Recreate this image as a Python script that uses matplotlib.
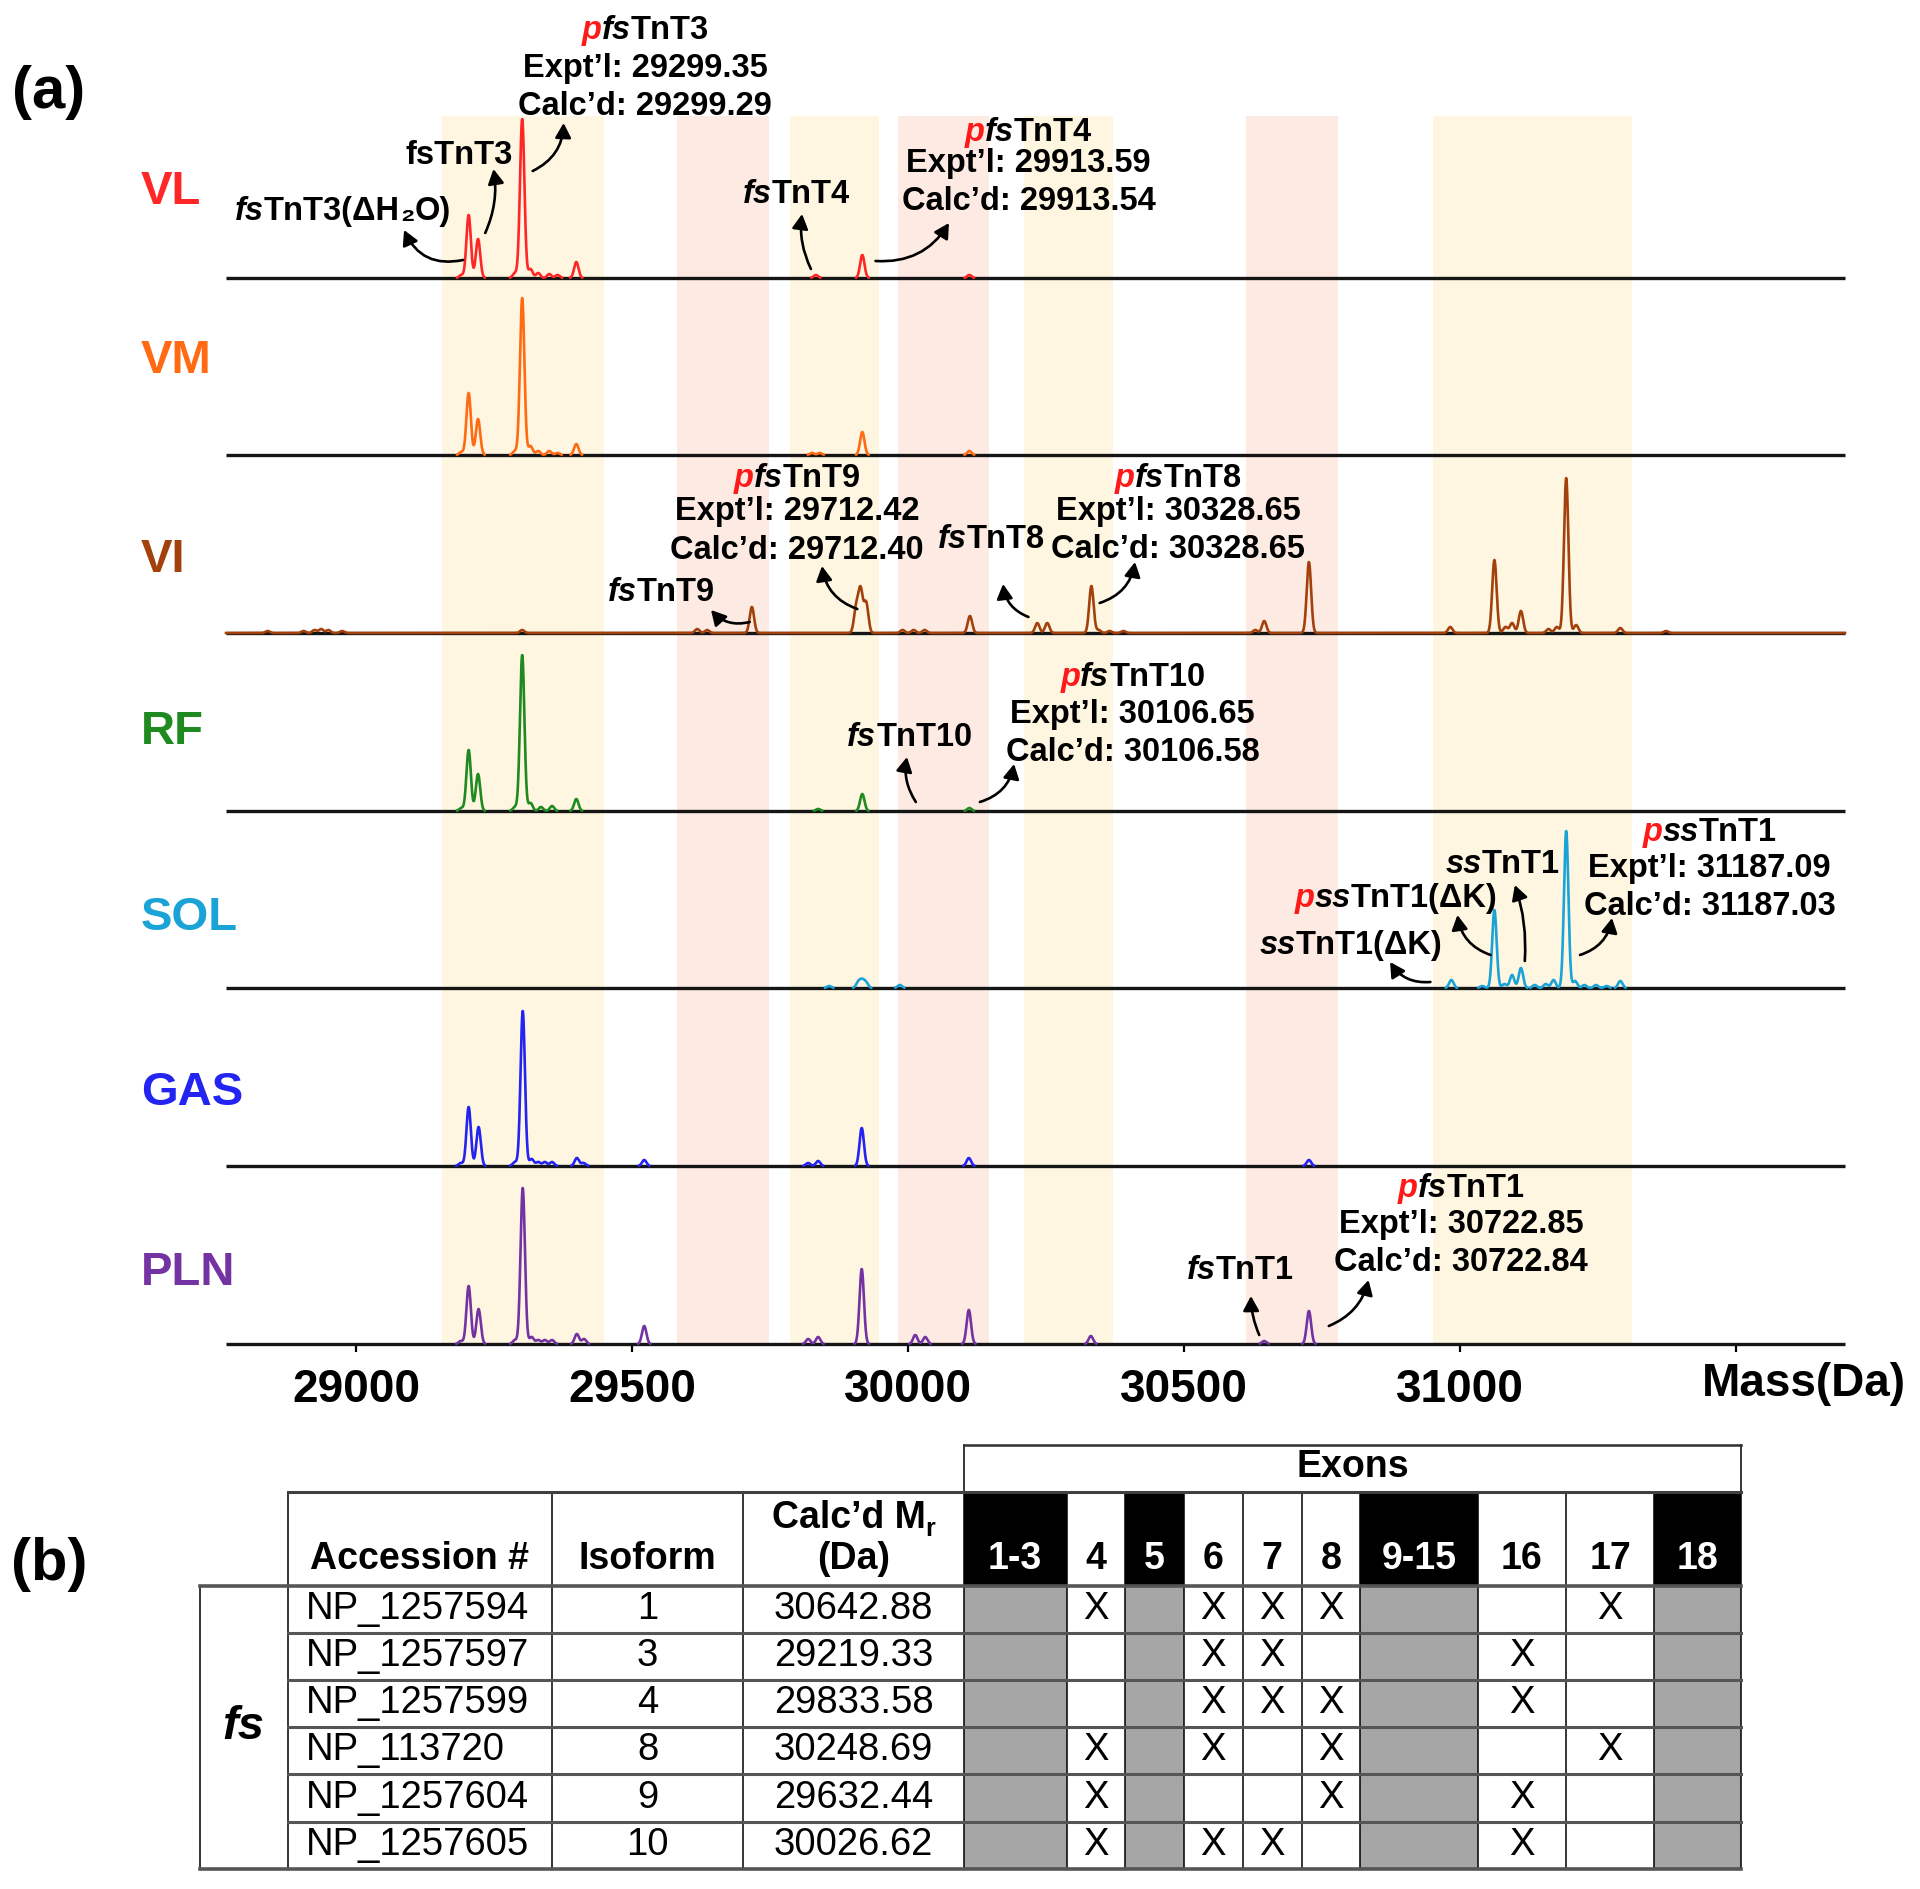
import numpy as np
import matplotlib
matplotlib.use('Agg')
import matplotlib.pyplot as plt
from matplotlib.patches import FancyArrowPatch, Rectangle
from matplotlib.transforms import offset_copy

FONT = ['Liberation Sans', 'DejaVu Sans']
plt.rcParams['font.family'] = FONT

# ---------------- data: panel (a) ----------------
panel_names = ['VL', 'VM', 'VI', 'RF', 'SOL', 'GAS', 'PLN']
panel_colors = ['#FF2626', '#FF6A12', '#A3410C', '#1F8A1F', '#1AA3D6', '#2323F2', '#7433A3']

vl_mass = [29191, 29204, 29221, 29288, 29301, 29316, 29330, 29350, 29365, 29399, 29833, 29917, 30111]
vl_int = [3, 63, 39, 5, 159, 9, 5, 4, 3, 16, 3, 23, 3]
vm_mass = [29191, 29204, 29221, 29288, 29301, 29316, 29330, 29350, 29365, 29399, 29826, 29840, 29917, 30111]
vm_int = [3, 62, 36, 4, 157, 9, 4, 4, 2, 11, 2, 2, 23, 4]
vi_mass = [28840, 28905, 28925, 28937, 28950, 28975, 29301, 29618, 29636, 29717, 29906, 29914, 29924,
           29990, 30010, 30030, 30112, 30234, 30252, 30332, 30345, 30365, 30390, 30629, 30645, 30726,
           30982, 31062, 31082, 31094, 31110, 31160, 31175, 31192, 31210, 31290, 31373]
vi_int = [2, 2, 3, 4, 3, 2, 3, 4, 3, 26, 25, 42, 30,
          3, 3, 3, 17, 10, 10, 47, 3, 2, 2, 3, 12, 71,
          6, 73, 6, 10, 22, 4, 6, 155, 8, 5, 2]
rf_mass = [29191, 29204, 29221, 29288, 29301, 29316, 29335, 29355, 29399, 29837, 29917, 30111]
rf_int = [3, 61, 37, 4, 156, 8, 4, 5, 12, 2, 17, 3]
sol_mass = [29857, 29910, 29917, 29924, 29985, 30984, 31040, 31062, 31080, 31094, 31110, 31135, 31155,
            31169, 31192, 31208, 31225, 31246, 31265, 31290]
sol_int = [2, 6, 7, 5, 3, 8, 2, 78, 4, 13, 20, 3, 4, 8, 157, 7, 3, 3, 2, 7]
gas_mass = [29190, 29204, 29222, 29288, 29302, 29318, 29330, 29342, 29355, 29400, 29412, 29522, 29819,
            29837, 29916, 30110, 30726]
gas_int = [3, 59, 39, 4, 155, 7, 4, 4, 4, 8, 3, 6, 3, 5, 38, 8, 6]
pln_mass = [29190, 29204, 29222, 29288, 29302, 29318, 29330, 29342, 29355, 29400, 29413, 29522, 29819,
            29837, 29916, 30013, 30031, 30110, 30331, 30645, 30726]
pln_int = [3, 58, 35, 4, 156, 7, 4, 4, 4, 10, 5, 18, 5, 7, 75, 9, 7, 34, 8, 3, 33]

panel_peaks = [(vl_mass, vl_int), (vm_mass, vm_int), (vi_mass, vi_int), (rf_mass, rf_int),
               (sol_mass, sol_int), (gas_mass, gas_int), (pln_mass, pln_int)]

yellow_bands = [(29156, 29449), (29786, 29947), (30210, 30371), (30951, 31312)]
pink_bands = [(29582, 29748), (29982, 30147), (30612, 30779)]

x_ticks = [29000, 29500, 30000, 30500, 31000, 31500]
x_ticklabels = ['29000', '29500', '30000', '30500', '31000', '']

# ---------------- data: table (b) ----------------
accessions = ['NP_1257594', 'NP_1257597', 'NP_1257599', 'NP_113720', 'NP_1257604', 'NP_1257605']
isoforms = ['1', '3', '4', '8', '9', '10']
calc_mr = ['30642.88', '29219.33', '29833.58', '30248.69', '29632.44', '30026.62']
exon_labels = ['1-3', '4', '5', '6', '7', '8', '9-15', '16', '17', '18']
exon_constitutive = [1, 0, 1, 0, 0, 0, 1, 0, 0, 1]
exon_presence = [
    [0, 1, 0, 1, 1, 1, 0, 0, 1, 0],
    [0, 0, 0, 1, 1, 0, 0, 1, 0, 0],
    [0, 0, 0, 1, 1, 1, 0, 1, 0, 0],
    [0, 1, 0, 1, 0, 1, 0, 0, 1, 0],
    [0, 1, 0, 0, 0, 1, 0, 1, 0, 0],
    [0, 1, 0, 1, 1, 0, 0, 1, 0, 0],
]

# ---------------- figure ----------------
W, H = 1920, 1889
fig = plt.figure(figsize=(W / 100, H / 100), dpi=100)
renderer = fig.canvas.get_renderer()

# overlay axes in pixel coordinates (for labels & table)
axp = fig.add_axes([0, 0, 1, 1])
axp.set_xlim(0, W)
axp.set_ylim(H, 0)
axp.axis('off')

# spectra axes
PL, PR, PB = 226, 1845, 1344
ax = fig.add_axes([PL / W, (H - PB) / H, (PR - PL) / W, PB / H])
ax.set_facecolor('none')
ax.set_xlim(28764.5, 31697)
ax.set_ylim(0, PB)
for s in ax.spines.values():
    s.set_visible(False)
ax.set_yticks([])
ax.set_xticks(x_ticks)
ax.set_xticklabels(x_ticklabels, fontsize=33, fontweight='bold')
ax.tick_params(axis='x', direction='out', length=6, width=1.6, pad=11)

band_top = (PB - 116) / PB
for a, b in yellow_bands:
    ax.axvspan(a, b, ymin=0, ymax=band_top, color='#FFF6E2', lw=0, zorder=0)
for a, b in pink_bands:
    ax.axvspan(a, b, ymin=0, ymax=band_top, color='#FDEBE3', lw=0, zorder=0)

baselines = [1066, 889, 711, 533, 356, 178, 0]
label_y_px = [192, 361, 560, 732, 918, 1093, 1273]
mgrid = np.linspace(28764.5, 31697, 7000)
SIG = 4.0
for i, (name, col) in enumerate(zip(panel_names, panel_colors)):
    base = baselines[i]
    ax.hlines(base, 28764.5, 31697, color='#151515', lw=2.4, zorder=2, clip_on=False)
    ms, hs = panel_peaks[i]
    y = np.zeros_like(mgrid)
    for m, h in zip(ms, hs):
        y += h * np.exp(-0.5 * ((mgrid - m) / SIG) ** 2)
    if name == 'VI':
        yy = y + base
    else:
        yy = np.where(y > 0.35, y + base, np.nan)
    ax.plot(mgrid, yy, color=col, lw=1.9, zorder=3, clip_on=False)
    axp.text(141, label_y_px[i], name, color=col, fontsize=34, fontweight='bold',
             ha='left', va='center')

axp.text(49, 92, '(a)', fontsize=43, fontweight='bold', ha='center', va='center')
axp.text(49, 1565, '(b)', fontsize=43, fontweight='bold', ha='center', va='center')

ax.text(31438, PB - 1384, 'Mass(Da)', fontsize=33, fontweight='bold', ha='left', va='center',
        clip_on=False)


def rich(target, x, y, parts, size=23.5, ha='center'):
    """Draw a line of mixed-style text; y is the vertical centre of capitals."""
    arts, widths = [], []
    for p in parts:
        s, c, st = p[0], p[1], p[2]
        sz = p[3] if len(p) > 3 else size
        t = target.text(x, y, s, color=c, style=st, fontweight='bold', fontsize=sz,
                        ha='left', va='baseline', clip_on=False)
        widths.append(t.get_window_extent(renderer=renderer).width)
        arts.append(t)
    total = sum(widths)
    off = {'center': -total / 2, 'left': 0, 'right': -total}[ha]
    dy = -0.358 * size * 100 / 72
    for t, w, p in zip(arts, widths, parts):
        extra = p[4] if len(p) > 4 else 0
        t.set_transform(offset_copy(target.transData, fig=fig, x=off, y=dy + extra, units='dots'))
        off += w


K, R = 'black', '#FF1A1A'
IT, NO = 'italic', 'normal'


def ptag(pre, iso, name, x, y, ha='center'):
    rich(ax, x, y, [('p', R, IT), (iso, K, IT), (name, K, NO)], ha=ha)


def block(x, y0, iso, name, expt, calc, gap1, gap2):
    ptag('p', iso, name, x, y0)
    rich(ax, x, y0 - gap1, [('Expt\u2019l: ' + expt, K, NO)])
    rich(ax, x, y0 - gap1 - gap2, [('Calc\u2019d: ' + calc, K, NO)])


# VL annotations
block(29524, 1317, 'fs', 'TnT3', '29299.35', '29299.29', 38, 38)
rich(ax, 29187, 1192, [('fsTnT3', K, NO)])
rich(ax, 28976, 1136, [('fs', K, IT), ('TnT3(\u0394H', K, NO), ('\u2082', K, NO), ('O)', K, NO)])
rich(ax, 29797, 1153, [('fs', K, IT), ('TnT4', K, NO)])
block(30218, 1215, 'fs', 'TnT4', '29913.59', '29913.54', 31, 38)
# VI annotations
block(29799, 869, 'fs', 'TnT9', '29712.42', '29712.40', 33, 39)
rich(ax, 29553, 755, [('fs', K, IT), ('TnT9', K, NO)])
rich(ax, 30150, 808, [('fs', K, IT), ('TnT8', K, NO)])
block(30489, 869, 'fs', 'TnT8', '30328.65', '30328.65', 33, 38)
# RF annotations
block(30407, 670, 'fs', 'TnT10', '30106.65', '30106.58', 37, 38)
rich(ax, 30003, 610, [('fs', K, IT), ('TnT10', K, NO)])
# SOL annotations
ptag('p', 'ss', 'TnT1', 31452, 515)
rich(ax, 31452, 479, [('Expt\u2019l: 31187.09', K, NO)])
rich(ax, 31452, 441, [('Calc\u2019d: 31187.03', K, NO)])
rich(ax, 31077, 483, [('ss', K, IT), ('TnT1', K, NO)])
rich(ax, 30884, 449, [('p', R, IT), ('ss', K, IT), ('TnT1(\u0394K)', K, NO)])
rich(ax, 30802, 402, [('ss', K, IT), ('TnT1(\u0394K)', K, NO)])
# PLN annotations
block(31002, 159, 'fs', 'TnT1', '30722.85', '30722.84', 36, 38)
rich(ax, 30602, 77, [('fs', K, IT), ('TnT1', K, NO)])

arrows = [
    ((29194, 1084), (29087, 1114), -0.4),
    ((29234, 1111), (29249, 1175), 0.15),
    ((29320, 1173), (29376, 1221), 0.3),
    ((29824, 1075), (29808, 1130), -0.15),
    ((29941, 1083), (30074, 1121), 0.3),
    ((29713, 722), (29643, 734), -0.3),
    ((29908, 735), (29844, 778), -0.3),
    ((30218, 727), (30172, 760), -0.3),
    ((30347, 741), (30411, 782), 0.3),
    ((30014, 542), (29998, 587), -0.2),
    ((30130, 542), (30192, 580), 0.3),
    ((31217, 389), (31275, 426), 0.3),
    ((31117, 383), (31099, 459), 0.1),
    ((31055, 389), (30995, 429), -0.3),
    ((30946, 362), (30873, 382), -0.3),
    ((30636, 9), (30621, 48), -0.1),
    ((30762, 18), (30834, 64), 0.25),
]
for p0, p1, rad in arrows:
    ax.add_patch(FancyArrowPatch(p0, p1, connectionstyle=f'arc3,rad={rad}',
                                 arrowstyle='-|>,head_length=0.55,head_width=0.3',
                                 mutation_scale=16, lw=1.9, color='black',
                                 shrinkA=0, shrinkB=0, zorder=5, clip_on=False))

# ---------------- table (b) ----------------
col_edges = [199.6, 287.8, 552.2, 743.3, 963.7, 1066.5, 1125.3, 1184, 1242.7, 1301.5,
             1360.3, 1477.9, 1566, 1654.2, 1741.2]
exon_top, head_top, head_bot = 1445, 1491.5, 1585.7
row_edges = [1585.7, 1632.5, 1679.5, 1726.5, 1774, 1822, 1868.6]
ex_edges = col_edges[4:]

for j, cons in enumerate(exon_constitutive):
    x0, x1 = ex_edges[j], ex_edges[j + 1]
    if cons:
        axp.add_patch(Rectangle((x0, head_top), x1 - x0, head_bot - head_top, color='black', lw=0))
        axp.add_patch(Rectangle((x0, row_edges[0]), x1 - x0, row_edges[-1] - row_edges[0],
                                color='#A6A6A6', lw=0))
    axp.text((x0 + x1) / 2, 1559, exon_labels[j], color='white' if cons else 'black',
             fontsize=27, fontweight='bold', ha='center', va='center')

LK = '#000000'
# vertical lines
for k, x in enumerate(col_edges):
    if k == 0:
        axp.plot([x, x], [row_edges[0], row_edges[-1]], color=LK, lw=1.1)
    elif k in (4, 14):
        axp.plot([x, x], [exon_top, row_edges[-1]], color=LK, lw=1.1)
    else:
        axp.plot([x, x], [head_top, row_edges[-1]], color=LK, lw=1.1)
# horizontal lines
axp.plot([ex_edges[0], ex_edges[-1]], [exon_top, exon_top], color='#303030', lw=1.8)
axp.plot([col_edges[1], col_edges[-1]], [head_top, head_top], color='#404040', lw=2.2)
for k, y in enumerate(row_edges):
    if k in (0, len(row_edges) - 1):
        axp.plot([col_edges[0], col_edges[-1]], [y, y], color='#555555', lw=2.6)
    else:
        axp.plot([col_edges[1], col_edges[-1]], [y, y], color='#555555', lw=2.2)

axp.text((ex_edges[0] + ex_edges[-1]) / 2, 1467, 'Exons', fontsize=27, fontweight='bold',
         ha='center', va='center')
axp.text((col_edges[1] + col_edges[2]) / 2, 1559, 'Accession #', fontsize=27, fontweight='bold',
         ha='center', va='center')
axp.text((col_edges[2] + col_edges[3]) / 2, 1559, 'Isoform', fontsize=27, fontweight='bold',
         ha='center', va='center')
rich(axp, (col_edges[3] + col_edges[4]) / 2, 1515,
     [('Calc\u2019d M', K, NO, 27), ('r', K, NO, 18, -8)], size=27)
axp.text((col_edges[3] + col_edges[4]) / 2, 1559, '(Da)', fontsize=27, fontweight='bold',
         ha='center', va='center')

axp.text((col_edges[0] + col_edges[1]) / 2, 1727, 'fs', fontsize=34, fontweight='bold',
         style='italic', ha='center', va='center')

for i in range(len(accessions)):
    yc = (row_edges[i] + row_edges[i + 1]) / 2
    axp.text(col_edges[1] + 18, yc, accessions[i], fontsize=27.5, ha='left', va='center')
    axp.text((col_edges[2] + col_edges[3]) / 2, yc, isoforms[i], fontsize=27.5, ha='center', va='center')
    axp.text((col_edges[3] + col_edges[4]) / 2, yc, calc_mr[i], fontsize=27.5, ha='center', va='center')
    for j, v in enumerate(exon_presence[i]):
        if v:
            axp.text((ex_edges[j] + ex_edges[j + 1]) / 2, yc, 'X', fontsize=27.5,
                     ha='center', va='center')

fig.savefig('out.png', dpi=100)
